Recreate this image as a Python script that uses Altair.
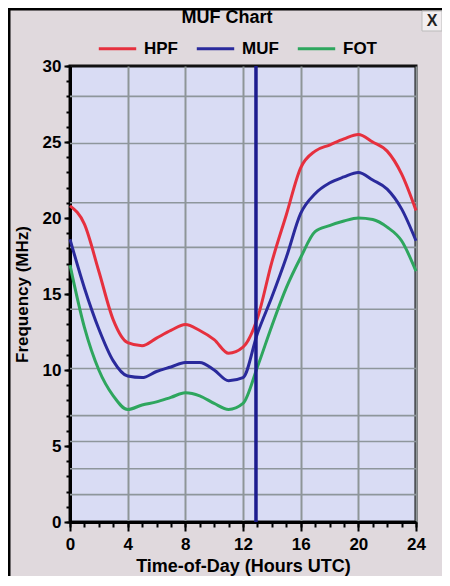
import altair as alt
import pandas as pd

# ---- data ----
hours = list(range(25))
hpf = [20.8, 19.6, 16.5, 13.3, 11.8, 11.6, 12.1, 12.6, 13.0, 12.6, 12.0, 11.1, 11.5,
       13.4, 17.1, 20.2, 23.3, 24.4, 24.8, 25.2, 25.5, 25.0, 24.4, 22.9, 20.5]
muf = [18.6, 15.4, 12.7, 10.6, 9.6, 9.5, 9.9, 10.2, 10.5, 10.5, 10.0, 9.3, 9.5,
       12.4, 14.8, 17.4, 20.3, 21.6, 22.3, 22.7, 23.0, 22.5, 21.9, 20.6, 18.5]
fot = [16.9, 12.8, 10.0, 8.3, 7.4, 7.7, 7.9, 8.2, 8.5, 8.3, 7.8, 7.4, 7.8,
       10.2, 12.9, 15.4, 17.4, 19.1, 19.5, 19.8, 20.0, 19.9, 19.4, 18.5, 16.5]
series = ["HPF", "MUF", "FOT"]
series_colors = ["#e6303e", "#2a2a9c", "#2ea65e"]
bands_mhz = [1.8, 3.5, 5.3, 7.0, 10.1, 14.0, 18.068, 21.0, 24.9, 28.0]
now_utc = [12.9]
x_major = [0, 4, 8, 12, 16, 20, 24]
x_minor = list(range(25))
y_major = [0, 5, 10, 15, 20, 25, 30]
y_minor = list(range(31))

rows = []
for name, vals in zip(series, [hpf, muf, fot]):
    for h, v in zip(hours, vals):
        rows.append({"hour": h, "freq": v, "series": name})
df = pd.DataFrame(rows)

FONT = "Liberation Sans"
W, H = 346, 456

xs = alt.Scale(domain=[0, 24], nice=False, zero=False)
ys = alt.Scale(domain=[0, 30], nice=False, zero=False)

bands = alt.Chart(pd.DataFrame({"f": bands_mhz})).mark_rule(
    color="#8e969b", strokeWidth=1.6
).encode(
    y=alt.Y("f:Q", scale=ys, axis=alt.Axis(
        orient="left", values=y_minor, labels=False, grid=False, domain=False,
        ticks=True, tickSize=4, tickWidth=2, tickColor="black", title=None))
)

lines = alt.Chart(df).mark_line(strokeWidth=3, interpolate="monotone").encode(
    x=alt.X("hour:Q", scale=xs, axis=alt.Axis(
        orient="bottom", values=x_major, format="d", grid=True,
        gridColor="#8e9597", gridWidth=2, gridOpacity=1,
        tickSize=9, tickWidth=2, tickColor="black",
        domain=True, domainColor="black", domainWidth=3,
        labelFont=FONT, labelFontSize=17, labelFontWeight="bold",
        labelColor="black", labelPadding=5, labelFlush=False,
        title="Time-of-Day (Hours UTC)", titleFont=FONT, titleFontSize=18,
        titleFontWeight="bold", titleColor="black",
        titleX=W / 2, titleY=44, titleBaseline="middle")),
    y=alt.Y("freq:Q", scale=ys, axis=alt.Axis(
        orient="left", values=y_major, format="d", grid=False,
        tickSize=6, tickWidth=2, tickColor="black",
        domain=True, domainColor="black", domainWidth=3,
        labelFont=FONT, labelFontSize=17, labelFontWeight="bold",
        labelColor="black", labelPadding=3, labelFlush=False,
        title="Frequency (MHz)", titleFont=FONT, titleFontSize=17,
        titleFontWeight="bold", titleColor="black",
        titleX=-48, titleY=H / 2, titleBaseline="middle")),
    color=alt.Color("series:N", scale=alt.Scale(domain=series, range=series_colors),
                    sort=series,
                    legend=alt.Legend(
                        orient="none", legendX=27, legendY=-38, direction="horizontal",
                        title=None, symbolType="stroke", symbolSize=1400,
                        symbolStrokeWidth=3, labelFont=FONT, labelFontSize=17,
                        labelFontWeight="bold", labelColor="black", labelOffset=6,
                        columnPadding=12, padding=0)),
)

now = alt.Chart(pd.DataFrame({"hour": now_utc})).mark_rule(
    color="#1c1c8e", strokeWidth=3.5
).encode(
    x=alt.X("hour:Q", scale=xs, axis=alt.Axis(
        orient="bottom", values=x_minor, labels=False, grid=False, domain=False,
        ticks=True, tickSize=5, tickWidth=2, tickColor="black", title=None))
)

frame_left = alt.Chart(pd.DataFrame({"a": [0]})).mark_rule(
    color="black", strokeWidth=3
).encode(x=alt.value(-61), y=alt.value(-58), y2=alt.value(H + 54))
frame_top = alt.Chart(pd.DataFrame({"a": [0]})).mark_rule(
    color="black", strokeWidth=3
).encode(x=alt.value(-62), x2=alt.value(W + 26), y=alt.value(-57))

close_box = alt.Chart(pd.DataFrame({"a": [0]})).mark_rect(
    fill="#f2eef0", stroke="#bbbbbb", strokeWidth=1
).encode(x=alt.value(W + 6), x2=alt.value(W + 26), y=alt.value(-55), y2=alt.value(-35))
close_x = alt.Chart(pd.DataFrame({"t": ["X"]})).mark_text(
    font=FONT, fontSize=16, fontWeight="bold", color="#222222", baseline="middle"
).encode(x=alt.value(W + 16), y=alt.value(-45), text="t:N")

chart = alt.layer(
    bands, lines, now, frame_left, frame_top, close_box, close_x
).resolve_axis(
    x="independent", y="independent"
).properties(
    width=W, height=H,
    title=alt.TitleParams("MUF Chart", font=FONT, fontSize=18, fontWeight="bold",
                          color="black", anchor="middle", frame="group", dx=-16,
                          offset=-20),
    autosize=alt.AutoSizeParams(type="none"),
    padding={"left": 62, "top": 58, "right": 26, "bottom": 54},
).configure(
    background="#e0d9dd"
).configure_view(
    fill="#d9dcf4", stroke="#111111", strokeWidth=3
)

chart.save("out.html", embed_options={"renderer": "svg", "actions": False})
